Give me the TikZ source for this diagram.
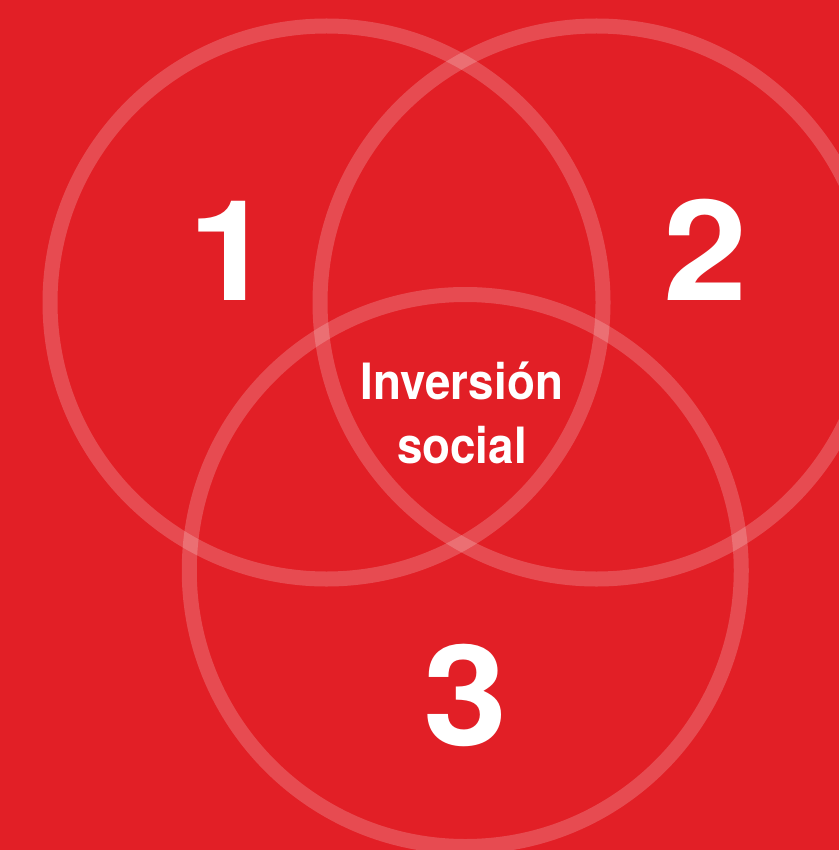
\documentclass[tikz,border=0pt]{standalone}
\usepackage{fontspec}
\setmainfont{TeX Gyre Heros}
\definecolor{bgred}{HTML}{E21F26}
\begin{document}
\begin{tikzpicture}[x=1pt,y=-1pt,
  ring/.style={draw=white,draw opacity=0.2,line width=15pt},
  digit/.style={text=white,anchor=base,inner sep=0pt,font=\fontsize{140}{140}\selectfont\bfseries},
  label/.style={text=white,anchor=base,inner sep=0pt,font=\fontsize{50}{50}\selectfont\bfseries}]
\useasboundingbox (0,0) rectangle (839,850);
\fill[bgred] (0,0) rectangle (839,850);
\clip (0,0) rectangle (839,850);
\draw[ring] (326.5,302.5) circle (276.5);
\draw[ring] (596.5,302.5) circle (276.5);
\draw[ring] (465.25,570.5) circle (276);
\node[digit] (n1) at (231,300) {\scalebox{1.08}[1]{1}};
\node[digit] (n2) at (706,300) {\scalebox{1.08}[1]{2}};
\node[digit] (n3) at (466,745) {\scalebox{1.08}[1]{3}};
\node[label] (l1) at (462,399) {\scalebox{0.915}[1]{Inversión}};
\node[label] (l2) at (462,463) {\scalebox{0.915}[1]{social}};
\end{tikzpicture}
\end{document}
